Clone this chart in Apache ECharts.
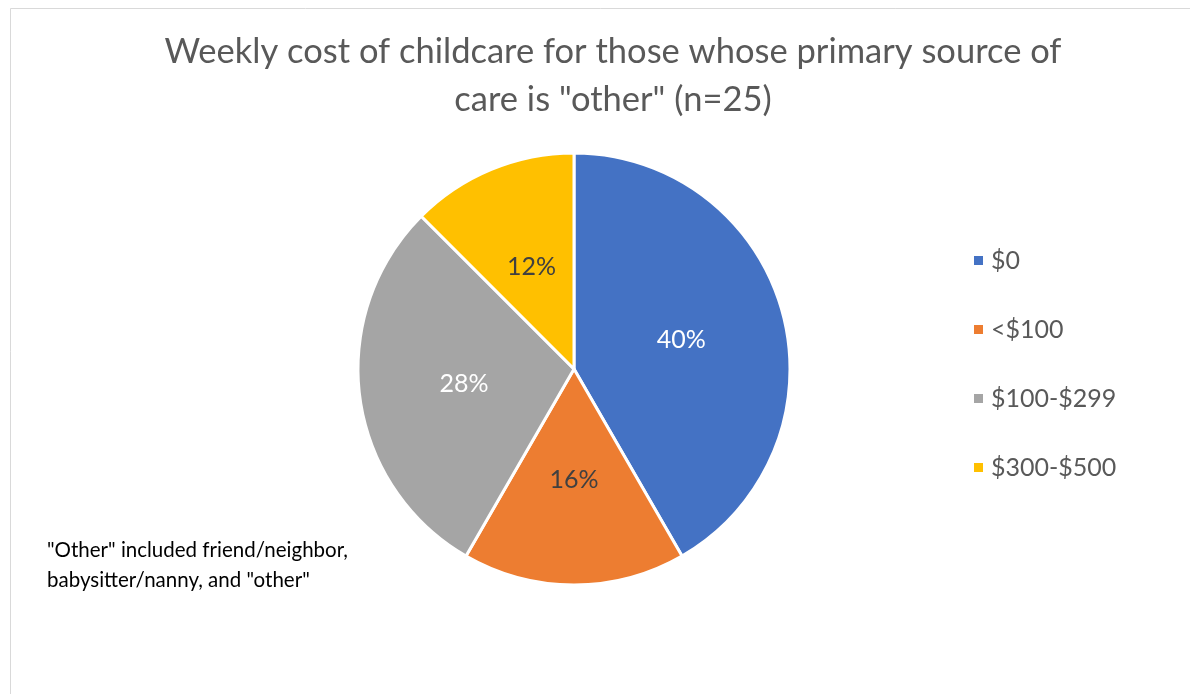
<!DOCTYPE html>
<html lang="en">
<head>
    <meta charset="UTF-8">
    <title>Weekly cost of childcare</title>
    <script src="https://cdn.jsdelivr.net/npm/echarts@6/dist/echarts.min.js"></script>
    <style>
        html, body { margin: 0; padding: 0; background: #fff; }
        #chart { width: 1190px; height: 694px; }
    </style>
</head>
<body>
    <div id="chart"></div>
    <script>
        // data
        var categories = ['$0', '<$100', '$100-$299', '$300-$500'];
        var shares = [40, 16, 28, 12];
        var colors = ['#4472C4', '#ED7D31', '#A5A5A5', '#FFC000'];
        var labelColors = ['#ffffff', '#404040', '#ffffff', '#404040'];

        var myChart = echarts.init(document.getElementById('chart'));

        var pieData = categories.map(function (name, i) {
            return {
                name: name,
                value: shares[i],
                itemStyle: { color: colors[i] },
                label: { color: labelColors[i] }
            };
        });

        myChart.setOption({
            backgroundColor: '#ffffff',
            animation: false,
            title: {
                text: 'Weekly cost of childcare for those whose primary source of\ncare is "other" (n=25)',
                left: 608,
                textAlign: 'center',
                top: 23,
                textStyle: {
                    fontFamily: 'Lato',
                    fontSize: 34.5,
                    fontWeight: 'normal',
                    color: '#595959',
                    lineHeight: 48
                }
            },
            legend: {
                orient: 'vertical',
                left: 967,
                top: 243,
                itemWidth: 11,
                itemHeight: 11,
                itemGap: 44,
                icon: 'rect',
                data: categories,
                textStyle: {
                    fontFamily: 'Lato',
                    fontSize: 25,
                    color: '#595959',
                    padding: [0, 0, 0, 2]
                }
            },
            graphic: [{
                type: 'rect',
                shape: { x: 10.5, y: 8.5, width: 1200, height: 700 },
                style: { fill: 'none', stroke: '#d9d9d9', lineWidth: 1 },
                silent: true
            }, {
                type: 'text',
                left: 47,
                top: 535,
                style: {
                    text: '"Other" included friend/neighbor,\nbabysitter/nanny, and "other"',
                    fontFamily: 'Lato',
                    fontSize: 20.5,
                    lineHeight: 30,
                    fill: '#000000'
                }
            }],
            series: [{
                name: 'Weekly cost',
                type: 'pie',
                center: [574, 369],
                radius: 216,
                startAngle: 90,
                clockwise: true,
                itemStyle: { borderColor: '#ffffff', borderWidth: 3 },
                label: {
                    show: true,
                    position: 'inside',
                    formatter: '{c}%',
                    fontFamily: 'Lato',
                    fontSize: 25
                },
                labelLine: { show: false },
                emphasis: { disabled: true },
                data: pieData
            }]
        });
    </script>
</body>
</html>
